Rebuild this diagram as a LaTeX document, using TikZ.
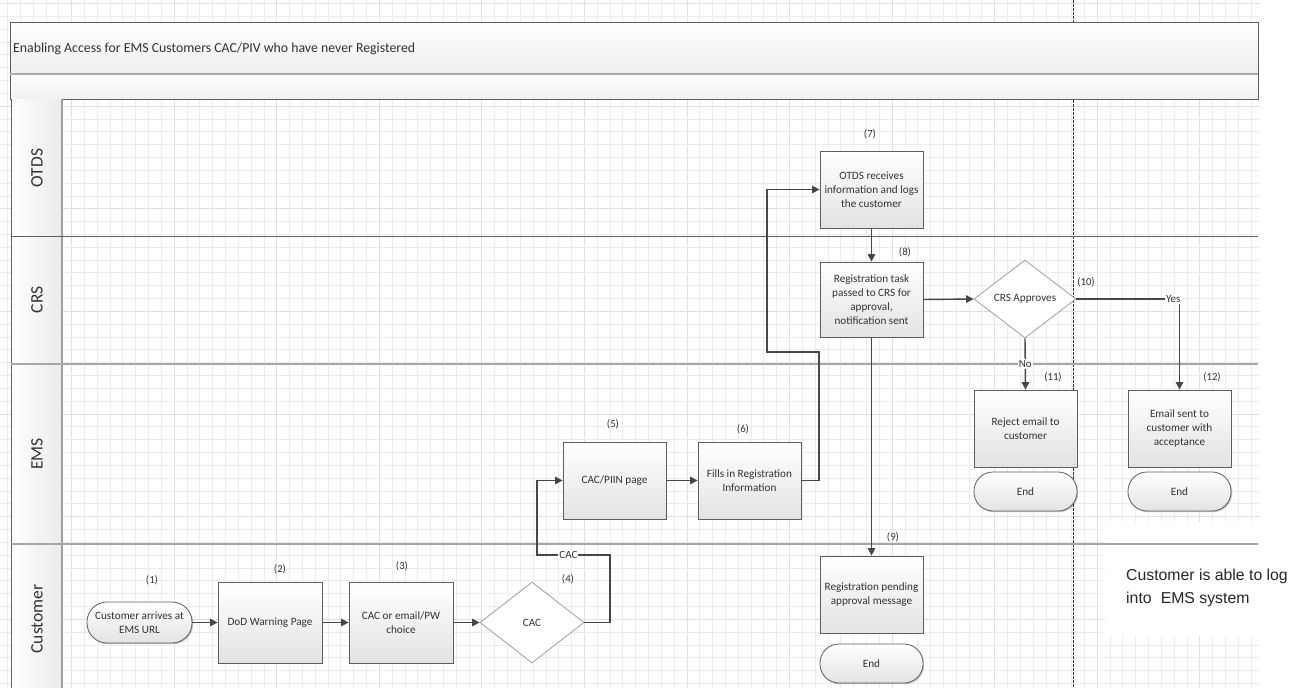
\documentclass[tikz,border=0pt]{standalone}
\usepackage{fontspec}
\setmainfont{Carlito}
\newfontfamily\arialfont{Liberation Sans}
\usetikzlibrary{arrows.meta,shapes.geometric,shadows}
\definecolor{linec}{HTML}{474747}
\definecolor{borderc}{HTML}{5E5E5E}
\definecolor{txt}{HTML}{333333}
\definecolor{gridminor}{HTML}{ECECEC}
\definecolor{gridmajor}{HTML}{E0E0E0}
\definecolor{boxbot}{HTML}{E3E3E3}
\begin{document}
\begin{tikzpicture}[x=1pt,y=-1pt,
  shad/.style={drop shadow={shadow xshift=1.2pt,shadow yshift=-1.2pt,fill=black,opacity=0.22}},
  proc/.style={shad,draw=borderc,line width=0.8pt,top color=white,bottom color=boxbot,
    minimum width=103pt,minimum height=77pt,align=center,inner sep=0pt,text=txt,
    font=\fontsize{11.2}{14}\selectfont},
  term/.style={shad,draw=borderc,line width=0.8pt,top color=white,bottom color=boxbot,
    rounded corners=19pt,minimum width=103pt,minimum height=39pt,align=center,inner sep=0pt,
    text=txt,font=\fontsize{11.2}{14}\selectfont},
  dec/.style={diamond,aspect=1.3,draw=gray!75,line width=0.8pt,fill=white,
    inner sep=0pt,align=center,text=txt,font=\fontsize{11.2}{14}\selectfont},
  conn/.style={draw=linec,line width=1.4pt,-{Triangle[length=7.5pt,width=7.5pt]}},
  elbl/.style={fill=white,inner sep=1pt,text=txt,font=\fontsize{11}{12}\selectfont},
  num/.style={text=txt,inner sep=0pt,font=\fontsize{10.8}{12}\selectfont},
  lane/.style={text=txt,inner sep=0pt,rotate=90,font=\fontsize{17.5}{20}\selectfont}]
\useasboundingbox (0,0) rectangle (1299,688);
\fill[white] (0,0) rectangle (1299,688);
% grid
\foreach \k in {-5,...,92}{
  \pgfmathtruncatemacro\mm{mod(\k+80,8)}
  \ifnum\mm=0 \draw[gridmajor,line width=0.6pt] ({71.5+12.82*\k},0) -- ({71.5+12.82*\k},688);
  \else \draw[gridminor,line width=0.6pt] ({71.5+12.82*\k},0) -- ({71.5+12.82*\k},688); \fi}
\foreach \k in {-8,...,45}{
  \pgfmathtruncatemacro\mm{mod(\k+80,8)}
  \ifnum\mm=0 \draw[gridmajor,line width=0.6pt] (0,{106+12.83*\k}) -- (1260,{106+12.83*\k});
  \else \draw[gridminor,line width=0.6pt] (0,{106+12.83*\k}) -- (1260,{106+12.83*\k}); \fi}
\fill[white] (1260,0) rectangle (1299,688);
\fill[white] (1105,522) rectangle (1299,636);
% phase separator
\draw[black!80,line width=0.7pt,dash pattern=on 2.5pt off 1.5pt] (1073,0) -- (1073,688);
% title band
\shade[top color=white,bottom color=gray!14] (10,22) rectangle (1258,74);
\shade[top color=white,bottom color=gray!12] (10,74) rectangle (1258,99);
\draw[borderc,line width=0.9pt] (10,22) rectangle (1258,99);
\draw[gray!65,line width=1.6pt] (10,74) -- (1258,74);
\node[anchor=west,inner sep=0pt,text=txt,font=\fontsize{13.8}{16}\selectfont] (title) at (13,49) {Enabling Access for EMS Customers CAC/PIV who have never Registered};
% lane headers
\shade[left color=white,right color=gray!16] (11,99) rectangle (62,688);
\draw[borderc,line width=0.9pt] (11,99) -- (11,688);
\draw[gray!75,line width=1.3pt] (62,99) -- (62,688);
\draw[borderc,line width=0.9pt] (11,236) -- (1258,236);
\draw[gray!70,line width=1.3pt] (11,364) -- (1258,364);
\draw[gray!70,line width=1.3pt] (11,544) -- (1258,544);
\node[lane] (lotds) at (37,168) {OTDS};
\node[lane] (lcrs) at (37,300) {CRS};
\node[lane] (lems) at (37,454) {EMS};
\node[lane] (lcust) at (37,619) {Customer};
% nodes
\node[term,minimum width=105pt,minimum height=41pt,rounded corners=20pt] (t1) at (139.5,622.5) {Customer arrives at\\EMS URL};
\node[proc,minimum width=104pt,minimum height=81pt] (b2) at (270,622.5) {DoD Warning Page};
\node[proc,minimum width=104pt,minimum height=81pt] (b3) at (401,622.5) {CAC or email/PW\\choice};
\node[dec,minimum width=104pt,minimum height=81pt] (d4) at (532,622.5) {CAC};
\node[proc] (b5) at (614.5,480.5) {CAC/PIIN page};
\node[proc] (b6) at (749.5,480.5) {Fills in Registration\\Information};
\node[proc] (b7) at (871.5,189.5) {OTDS receives\\information and logs\\the customer};
\node[proc,minimum height=75pt] (b8) at (871.5,299.5) {Registration task\\passed to CRS for\\approval,\\notification sent};
\node[dec,minimum width=102pt,minimum height=78pt] (d10) at (1025,299) {CRS Approves};
\node[proc] (b11) at (1025.5,428.5) {Reject email to\\customer};
\node[term] (e11) at (1025.5,491.5) {End};
\node[proc] (b12) at (1179.5,428.5) {Email sent to\\customer with\\acceptance};
\node[term] (e12) at (1179.5,491.5) {End};
\node[proc] (b9) at (871.5,594.5) {Registration pending\\approval message};
\node[term] (e9) at (871.5,663.5) {End};
% step numbers
\node[num] (n1) at (152,580) {(1)};
\node[num] (n2) at (280,569) {(2)};
\node[num] (n3) at (402,566) {(3)};
\node[num] (n4) at (568,579) {(4)};
\node[num] (n5) at (613,424) {(5)};
\node[num] (n6) at (743,429) {(6)};
\node[num] (n7) at (870,134) {(7)};
\node[num] (n8) at (905,252) {(8)};
\node[num] (n9) at (893,537) {(9)};
\node[num] (n10) at (1086,282) {(10)};
\node[num] (n11) at (1053,377) {(11)};
\node[num] (n12) at (1212,377) {(12)};
% connectors
\coordinate (c4a) at (610,555);
\coordinate (c4b) at (537,555);
\coordinate (c6a) at (819,352);
\coordinate (c6b) at (767,352);
\coordinate (c10) at (1179.5,299);
\draw[conn] (t1.east) -- (b2.west);
\draw[conn] (b2.east) -- (b3.west);
\draw[conn] (b3.east) -- (d4.west);
\draw[conn] (d4.east) -| (c4a) -- node[elbl,pos=0.57] {CAC} (c4b) |- (b5.west);
\draw[conn] (b5.east) -- (b6.west);
\draw[conn] (b6.east) -| (c6a) -- (c6b) |- (b7.west);
\draw[conn] (b7.south) -- (b8.north);
\draw[conn] (b8.east) -- (d10.west);
\draw[conn] (d10.east) -- node[elbl,pos=0.94] {Yes} (c10) -- (b12.north);
\draw[conn] (d10.south) -- node[elbl,pos=0.5] {No} (b11.north);
\draw[conn] (b8.south) -- (b9.north);
% note
\node[anchor=west,align=left,inner sep=0pt,text=black!85,font=\arialfont\fontsize{15.8}{23}\selectfont] (note) at (1126,587.5) {Customer is able to log\\into\hspace{0.3em} EMS system};
\end{tikzpicture}
\end{document}
